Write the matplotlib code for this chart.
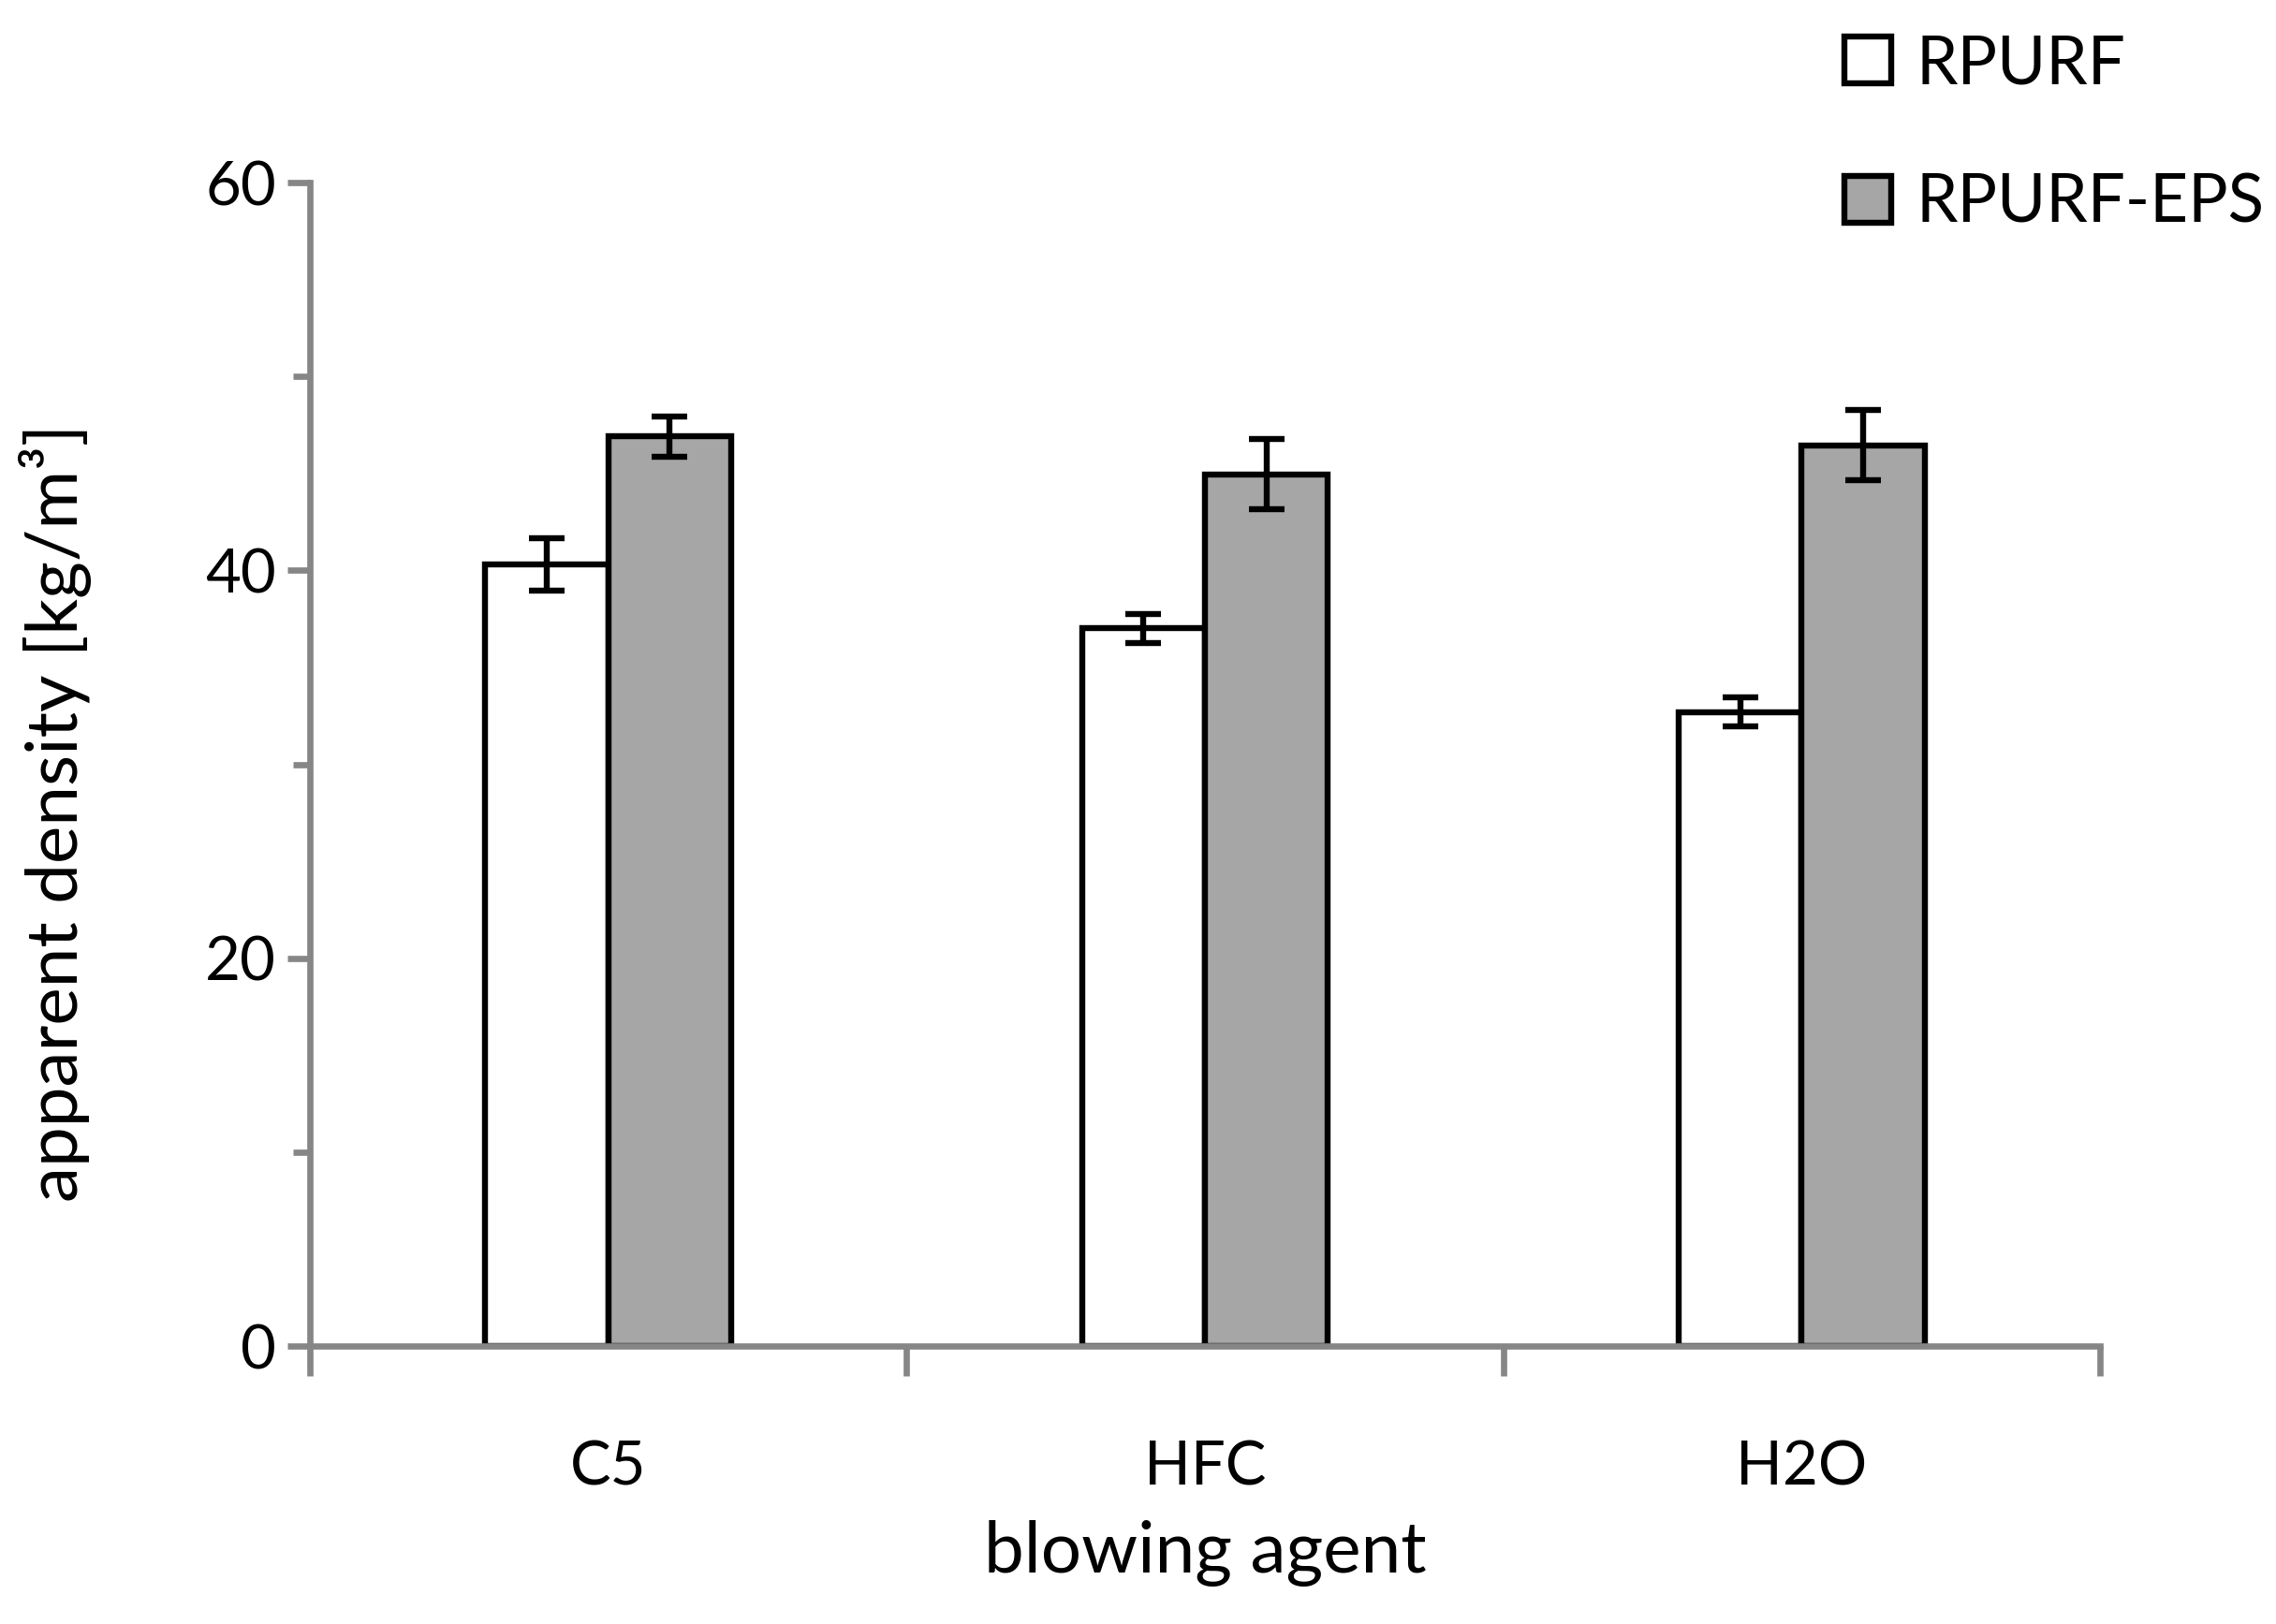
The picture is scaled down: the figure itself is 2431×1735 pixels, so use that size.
import matplotlib
matplotlib.use("Agg")
import matplotlib.pyplot as plt
import numpy as np
from matplotlib.patches import Patch
from matplotlib.ticker import MultipleLocator, FixedLocator

categories = ["C5", "HFC", "H2O"]
rpurf = [40.3, 37.0, 32.7]
rpurf_err = [1.35, 0.75, 0.75]
rpurf_eps = [46.9, 44.95, 46.45]
rpurf_eps_err = [1.05, 1.8, 1.8]
series_names = ["RPURF", "RPURF-EPS"]
yticks = [0, 20, 40, 60]

plt.rcParams['font.family'] = ['Lato', 'DejaVu Sans']

W, H = 2431, 1735
dpi = 100
fig = plt.figure(figsize=(W / dpi, H / dpi), dpi=dpi)
ax = fig.add_axes([331 / W, 1 - 1438 / H, (2243 - 331) / W, (1438 - 195) / H])

x = np.arange(len(categories))
bw = 0.206
lw = 4.6
axis_grey = "#868686"
fill_grey = "#A6A6A6"

ekw = dict(ecolor="black", elinewidth=lw, capsize=14, capthick=lw)
ax.bar(x - bw / 2, rpurf, bw, color="white", edgecolor="black", linewidth=lw,
       yerr=rpurf_err, error_kw=ekw, label=series_names[0], zorder=2)
ax.bar(x + bw / 2, rpurf_eps, bw, color=fill_grey, edgecolor="black", linewidth=lw,
       yerr=rpurf_eps_err, error_kw=ekw, label=series_names[1], zorder=2)

ax.set_xlim(-0.5, 2.5)
ax.set_ylim(0, 60)

for s in ["top", "right"]:
    ax.spines[s].set_visible(False)
for s in ["left", "bottom"]:
    ax.spines[s].set_color(axis_grey)
    ax.spines[s].set_linewidth(4.8)
    ax.spines[s].set_zorder(3)

fs = 47
fs_title = 55
fs_leg = 51
ax.set_yticks(yticks)
ax.yaxis.set_minor_locator(MultipleLocator(10))
ax.tick_params(axis="y", which="major", length=17, width=4.8, color=axis_grey,
               labelsize=fs, pad=9, direction="out")
ax.tick_params(axis="y", which="minor", length=13, width=4.8, color=axis_grey, direction="out")

ax.set_xticks(x)
ax.set_xticklabels(categories)
ax.xaxis.set_minor_locator(FixedLocator([-0.5, 0.5, 1.5, 2.5]))
ax.tick_params(axis="x", which="major", length=0, labelsize=fs, pad=72)
ax.tick_params(axis="x", which="minor", length=23, width=4.8, color=axis_grey, direction="out")

fig.text(0.5 * (331 + 2243) / W, 1 - 1659 / H, "blowing agent", fontsize=fs_title,
         ha="center", va="center")
fig.text(59 / W, 1 - 868 / H, "apparent density [kg/m³]", fontsize=fs_title,
         rotation=90, ha="center", va="center")

handles = [Patch(facecolor="white", edgecolor="black", linewidth=lw, label=series_names[0]),
           Patch(facecolor=fill_grey, edgecolor="black", linewidth=lw, label=series_names[1])]
fig.legend(handles=handles, loc="upper left", bbox_to_anchor=(1970 / W, 1 - 36 / H),
           frameon=False, fontsize=fs_leg, handlelength=0.7, handleheight=0.7,
           handletextpad=0.38, labelspacing=1.18, borderpad=0, borderaxespad=0)

fig.savefig("out.png", dpi=dpi)
